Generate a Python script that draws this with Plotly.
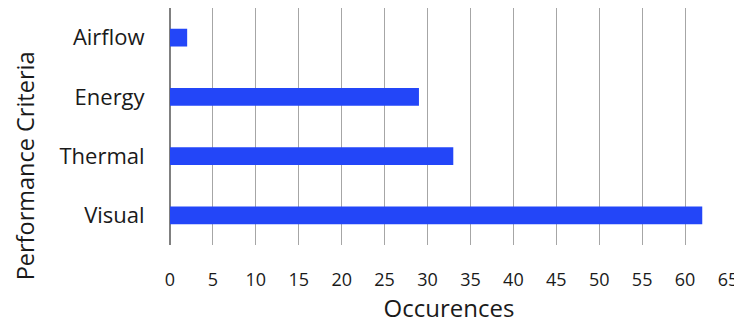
import plotly.graph_objects as go

categories = ["Visual", "Thermal", "Energy", "Airflow"]
occurrences = [62, 33, 29, 2]
x_ticks = list(range(0, 70, 5))

fig = go.Figure(go.Bar(
    x=occurrences, y=categories, orientation="h",
    marker=dict(color="#2346f8", line=dict(width=0)),
    width=0.3,
))

fig.update_layout(
    width=742, height=325,
    margin=dict(l=162, r=22, t=0, b=88),
    paper_bgcolor="white", plot_bgcolor="white",
    font=dict(family="Open Sans, sans-serif", color="#1a1a1a"),
    showlegend=False,
    annotations=[dict(
        text="Performance Criteria", textangle=-90,
        xref="paper", yref="paper", x=-0.2598, y=0.332,
        xanchor="center", yanchor="middle", showarrow=False,
        font=dict(size=23.5, color="#1a1a1a"), borderpad=0,
    )],
)
fig.update_xaxes(
    range=[0, 65], tickvals=x_ticks, ticktext=[str(v) for v in x_ticks],
    showgrid=True, gridcolor="#a6a6a6", gridwidth=1,
    zeroline=True, zerolinecolor="#808080", zerolinewidth=1.5,
    ticks="outside", ticklen=18, tickcolor="rgba(0,0,0,0)",
    tickfont=dict(size=18),
    title=dict(text="Occurences", font=dict(size=24), standoff=9),
    showline=False, automargin=False,
)
fig.update_yaxes(
    categoryorder="array", categoryarray=categories,
    showgrid=False, zeroline=False, showline=False,
    ticks="outside", ticklen=20, tickcolor="rgba(0,0,0,0)",
    tickfont=dict(size=22),
    automargin=False,
)

fig.write_html("out.html")
